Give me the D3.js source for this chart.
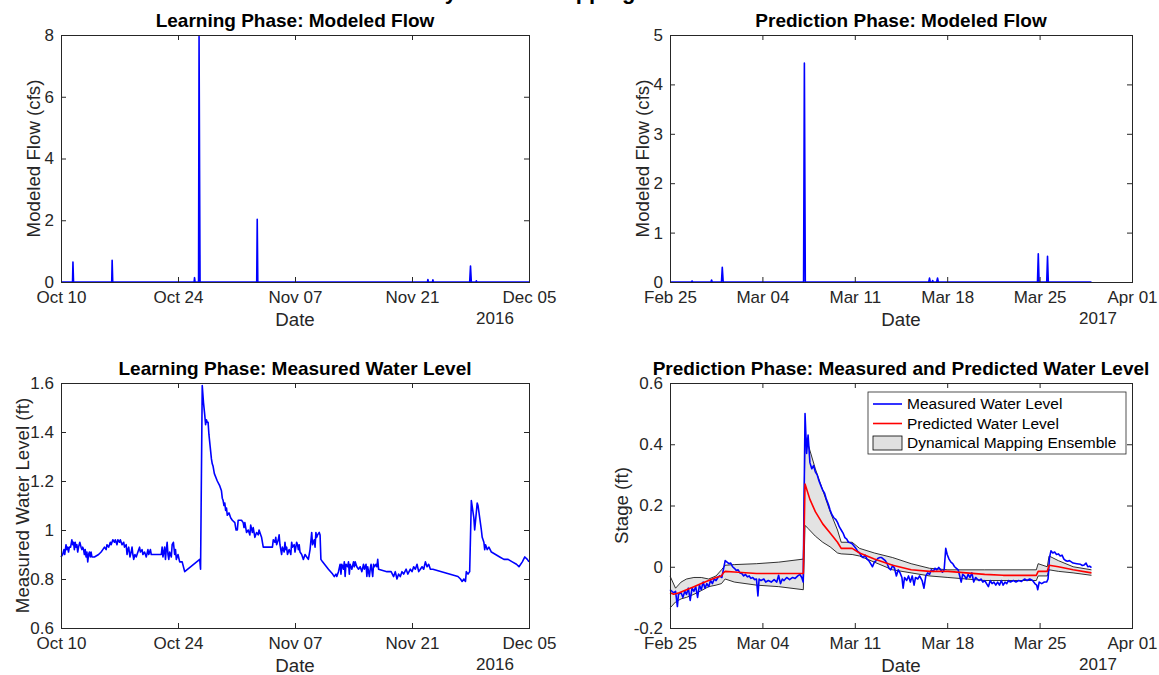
<!DOCTYPE html>
<html><head><meta charset="utf-8">
<script src="https://cdn.jsdelivr.net/npm/d3@7"></script>
<style>
body{margin:0;background:#fff}
svg{display:block}
text{font-family:"Liberation Sans",Arial,Helvetica,sans-serif}
</style>
</head><body>
<svg id="c" width="1159" height="675"></svg>
<script>
// ---------- DATA ----------
const mainTitle = "Dynamical Mapping Results";
const learnStart = "2016-10-10", learnEnd = "2016-12-05";
const predStart = "2017-02-25", predEnd = "2017-04-01";
const learnTicks = ["2016-10-10","2016-10-24","2016-11-07","2016-11-21","2016-12-05"];
const predTicks = ["2017-02-25","2017-03-04","2017-03-11","2017-03-18","2017-03-25","2017-04-01"];
const flowLearnTicksY = [0,2,4,6,8];
const flowPredTicksY = [0,1,2,3,4,5];
const levelLearnTicksY = [0.6,0.8,1,1.2,1.4,1.6];
const stageTicksY = [-0.2,0,0.2,0.4,0.6];

// modeled flow, learning phase (day offset from start, cfs)
const flowLearnDays = [0,1.38,1.43,1.5,6.07,6.12,6.19,15.93,15.98,16.04,16.46,16.52,16.58,16.64,23.42,23.48,23.55,43.85,43.9,43.96,44.45,44.5,44.56,48.9,49.0,49.1,49.65,49.7,49.76,56];
const flowLearnValues = [0,0,0.65,0,0,0.70,0,0,0.14,0,0,7.95,3.7,0,0,2.03,0,0,0.08,0,0,0.07,0,0,0.52,0,0,0.04,0,0];

// modeled flow, prediction phase
const flowPredDays = [0,1.62,1.67,1.72,3.1,3.15,3.2,3.9,3.96,4.03,10.12,10.18,10.25,19.6,19.66,19.72,19.85,19.9,19.95,20.2,20.27,20.33,27.84,27.9,27.96,28.54,28.6,28.66,31.93];
const flowPredValues = [0,0,0.02,0,0,0.04,0,0,0.3,0,0,4.43,0,0,0.08,0,0,0.03,0,0,0.08,0,0,0.57,0,0,0.52,0,0];

// measured water level, learning phase [day offset, ft]
const levelLearn = [
[0,0.89],[0.2,0.90],[0.35,0.92],[0.45,0.90],[0.6,0.94],[0.7,0.92],[0.8,0.93],[0.9,0.91],[1.0,0.93],[1.15,0.93],
[1.3,0.96],[1.4,0.94],[1.5,0.95],[1.6,0.92],[1.7,0.95],[1.8,0.93],[1.9,0.94],[2.0,0.91],[2.1,0.93],[2.25,0.95],
[2.4,0.93],[2.5,0.92],[2.6,0.93],[2.7,0.92],[2.8,0.90],[2.9,0.92],[3.0,0.89],[3.1,0.91],[3.2,0.87],[3.3,0.90],
[3.4,0.91],[3.5,0.89],[3.6,0.91],[3.7,0.89],[4.0,0.89],[4.5,0.90],[4.8,0.91],[5.0,0.92],[5.2,0.93],[5.4,0.92],
[5.5,0.94],[5.7,0.93],[5.9,0.95],[6.0,0.94],[6.2,0.96],[6.4,0.95],[6.5,0.96],[6.7,0.94],[6.8,0.96],[7.0,0.95],
[7.1,0.96],[7.3,0.94],[7.5,0.95],[7.6,0.93],[7.8,0.94],[7.9,0.90],[8.0,0.92],[8.1,0.93],[8.25,0.89],[8.4,0.91],
[8.5,0.93],[8.6,0.90],[8.7,0.88],[8.85,0.90],[9.0,0.89],[9.2,0.91],[9.4,0.93],[9.5,0.91],[9.7,0.92],[9.8,0.90],
[10.0,0.91],[10.2,0.89],[10.4,0.92],[10.5,0.90],[10.7,0.92],[10.8,0.90],[11.0,0.90],[12.0,0.90],[12.1,0.93],[12.2,0.89],
[12.4,0.93],[12.5,0.88],[12.6,0.92],[12.7,0.95],[12.8,0.90],[12.9,0.88],[13.0,0.91],[13.2,0.89],[13.3,0.94],[13.45,0.95],
[13.6,0.90],[13.7,0.92],[13.8,0.88],[14.0,0.90],[14.2,0.87],[14.5,0.87],[14.8,0.83],[16.6,0.88],[16.7,0.84],[16.9,1.59],
[17.05,1.52],[17.2,1.47],[17.3,1.43],[17.4,1.45],[17.5,1.44],[17.6,1.44],[17.7,1.39],[17.85,1.34],[18.0,1.29],[18.1,1.27],
[18.2,1.26],[18.35,1.23],[18.7,1.20],[19.0,1.18],[19.2,1.16],[19.3,1.13],[19.4,1.12],[19.5,1.10],[19.6,1.11],[19.7,1.08],
[19.8,1.09],[19.9,1.06],[20.1,1.07],[20.3,1.05],[20.5,1.04],[20.8,1.03],[20.95,1.00],[21.1,1.00],[21.2,1.04],[21.6,1.04],
[21.8,1.03],[21.9,1.01],[22.0,1.03],[22.2,0.99],[22.4,1.00],[22.6,0.98],[22.7,1.02],[22.9,0.99],[23.0,1.01],[23.2,0.97],
[23.4,0.99],[23.6,0.98],[23.7,1.00],[23.9,0.98],[24.0,0.97],[24.2,0.93],[25.3,0.93],[25.4,0.96],[25.6,0.95],[25.7,0.97],
[25.8,0.94],[26.0,0.96],[26.1,0.98],[26.2,0.94],[26.4,0.90],[26.5,0.93],[26.7,0.91],[26.8,0.95],[26.9,0.92],[27.0,0.93],
[27.1,0.90],[27.3,0.92],[27.5,0.90],[27.6,0.95],[27.7,0.93],[27.9,0.94],[28.0,0.91],[28.2,0.95],[28.3,0.94],[28.4,0.92],
[28.5,0.94],[28.6,0.91],[28.8,0.90],[29.0,0.88],[29.2,0.90],[29.4,0.89],[29.6,0.88],[29.8,0.92],[30.0,0.99],[30.1,0.94],
[30.3,0.96],[30.4,0.93],[30.5,0.99],[30.6,0.97],[30.7,0.98],[30.9,0.99],[31.0,0.98],[31.1,0.88],[31.3,0.87],[32.0,0.84],
[32.5,0.82],[32.7,0.81],[32.9,0.82],[33.0,0.81],[33.2,0.83],[33.4,0.86],[33.5,0.82],[33.6,0.86],[33.8,0.84],[33.9,0.87],
[34.0,0.81],[34.1,0.86],[34.3,0.85],[34.4,0.87],[34.5,0.82],[34.6,0.86],[34.8,0.84],[35.0,0.87],[35.1,0.85],[35.2,0.87],
[35.4,0.85],[35.6,0.84],[35.8,0.85],[36.0,0.83],[36.2,0.86],[36.3,0.84],[36.5,0.86],[36.6,0.81],[36.7,0.85],[36.9,0.81],
[37.0,0.84],[37.1,0.86],[37.3,0.81],[37.4,0.86],[37.5,0.85],[37.7,0.86],[37.8,0.85],[37.9,0.88],[38.0,0.84],[39.0,0.83],
[39.5,0.83],[39.8,0.81],[40.0,0.83],[40.2,0.80],[40.4,0.82],[40.6,0.81],[40.8,0.83],[41.0,0.82],[41.3,0.84],[41.5,0.82],
[41.8,0.84],[42.0,0.83],[42.2,0.85],[42.4,0.84],[42.6,0.86],[42.8,0.83],[43.0,0.84],[43.2,0.85],[43.4,0.84],[43.6,0.87],
[43.8,0.85],[44.0,0.86],[44.2,0.84],[44.5,0.84],[47.5,0.81],[47.8,0.80],[48.0,0.79],[48.2,0.80],[48.4,0.79],[48.5,0.83],
[48.7,0.82],[48.9,0.83],[49.1,1.12],[49.4,1.05],[49.5,1.00],[49.8,1.11],[49.9,1.10],[50.1,1.05],[50.3,1.00],[50.4,0.97],
[50.6,0.95],[50.7,0.92],[50.8,0.94],[51.0,0.92],[51.2,0.93],[51.5,0.91],[52.0,0.90],[52.5,0.89],[53.0,0.88],[53.5,0.88],
[54.0,0.87],[54.5,0.86],[54.8,0.85],[55.2,0.87],[55.5,0.89],[55.8,0.88],[56.0,0.87]
];

// measured stage, prediction phase [day offset, ft]
const stageMeasured = [
[0,-0.075],[0.14,-0.08],[0.28,-0.085],[0.42,-0.08],[0.56,-0.13],[0.64,-0.09],[0.84,-0.085],[0.98,-0.10],[1.12,-0.08],[1.25,-0.09],
[1.39,-0.07],[1.53,-0.11],[1.67,-0.07],[1.81,-0.08],[1.95,-0.065],[2.09,-0.10],[2.23,-0.06],[2.37,-0.075],[2.51,-0.05],[2.65,-0.07],
[2.79,-0.055],[2.93,-0.065],[3.07,-0.045],[3.21,-0.055],[3.35,-0.04],[3.49,-0.045],[3.63,-0.035],[3.76,-0.03],[3.93,-0.035],[4.04,-0.01],
[4.18,0.02],[4.32,0.015],[4.46,0.01],[4.60,0.012],[4.74,0.0],[4.88,-0.005],[5.02,-0.012],[5.16,-0.01],[5.30,-0.02],[5.44,-0.022],
[5.58,-0.03],[5.72,-0.025],[5.86,-0.033],[6.00,-0.03],[6.13,-0.038],[6.27,-0.035],[6.41,-0.042],[6.55,-0.04],[6.66,-0.095],[6.75,-0.04],
[6.89,-0.045],[7.11,-0.04],[7.25,-0.05],[7.45,-0.045],[7.67,-0.05],[7.89,-0.042],[8.09,-0.05],[8.23,-0.028],[8.37,-0.055],[8.51,-0.04],
[8.64,-0.045],[8.84,-0.035],[9.06,-0.042],[9.29,-0.035],[9.48,-0.038],[9.68,-0.03],[9.84,-0.025],[9.98,-0.035],[10.09,-0.05],[10.23,0.50],
[10.35,0.37],[10.46,0.43],[10.60,0.34],[10.74,0.32],[10.88,0.33],[11.01,0.31],[11.15,0.30],[11.29,0.28],[11.43,0.265],[11.57,0.25],
[11.71,0.24],[11.85,0.22],[11.99,0.205],[12.13,0.185],[12.27,0.17],[12.41,0.16],[12.55,0.155],[12.69,0.145],[12.83,0.13],[12.97,0.12],
[13.11,0.11],[13.25,0.095],[13.39,0.09],[13.52,0.08],[13.66,0.078],[13.80,0.075],[13.94,0.068],[14.08,0.06],[14.22,0.05],[14.36,0.045],
[14.50,0.035],[14.64,0.03],[14.78,0.038],[14.92,0.025],[15.06,0.02],[15.20,0.01],[15.34,0.0],[15.48,0.015],[15.62,0.02],[15.76,0.028],
[15.90,0.03],[16.03,0.03],[16.17,0.025],[16.31,0.02],[16.45,0.01],[16.59,-0.005],[16.73,-0.01],[16.87,0.005],[17.01,-0.005],[17.15,-0.03],
[17.29,-0.01],[17.43,-0.02],[17.57,-0.035],[17.66,-0.07],[17.77,-0.035],[17.93,-0.045],[18.07,-0.03],[18.21,-0.05],[18.35,-0.03],[18.49,-0.06],
[18.60,-0.035],[18.77,-0.04],[18.91,-0.03],[19.10,-0.045],[19.24,-0.07],[19.38,-0.03],[19.52,-0.02],[19.66,-0.025],[19.80,-0.01],[19.94,-0.015],
[20.08,-0.005],[20.22,-0.01],[20.36,-0.002],[20.50,-0.01],[20.64,-0.018],[20.77,-0.01],[20.89,0.06],[21.00,0.04],[21.14,0.025],[21.28,0.015],
[21.42,0.01],[21.56,0.0],[21.70,-0.005],[21.83,-0.01],[21.95,-0.03],[22.06,-0.05],[22.17,-0.025],[22.31,-0.03],[22.45,-0.04],[22.59,-0.025],
[22.73,-0.035],[22.87,-0.02],[23.01,-0.05],[23.15,-0.035],[23.28,-0.04],[23.42,-0.045],[23.56,-0.04],[23.70,-0.05],[23.84,-0.045],[23.98,-0.055],
[24.12,-0.065],[24.26,-0.045],[24.40,-0.055],[24.54,-0.05],[24.68,-0.06],[24.82,-0.05],[24.96,-0.06],[25.10,-0.045],[25.24,-0.06],[25.38,-0.05],
[25.51,-0.055],[25.65,-0.045],[25.79,-0.05],[26.02,-0.045],[26.21,-0.05],[26.41,-0.045],[26.63,-0.048],[26.86,-0.04],[27.05,-0.045],[27.25,-0.04],
[27.47,-0.045],[27.64,-0.055],[27.78,-0.06],[27.86,-0.075],[27.97,-0.05],[28.16,-0.055],[28.36,-0.05],[28.53,-0.05],[28.64,-0.04],[28.75,0.03],
[28.86,0.052],[29.00,0.045],[29.14,0.048],[29.28,0.04],[29.42,0.042],[29.56,0.035],[29.70,0.038],[29.84,0.025],[29.98,0.02],[30.12,0.018],
[30.26,0.02],[30.54,0.012],[30.82,0.01],[31.10,0.008],[31.24,0.004],[31.38,0.006],[31.52,0.012],[31.65,0.0],[31.79,0.002],[31.93,-0.003]
];

// predicted stage [day offset, ft]
const stagePredicted = [
[0,-0.085],[0.28,-0.09],[0.7,-0.085],[1.25,-0.075],[1.81,-0.065],[2.37,-0.055],[2.93,-0.045],[3.49,-0.035],[3.9,-0.03],[4.04,-0.02],
[4.18,-0.015],[4.88,-0.017],[6.55,-0.022],[8.78,-0.022],[10.1,-0.022],[10.23,0.27],[10.6,0.22],[11.01,0.18],[11.57,0.14],[12.13,0.11],
[12.69,0.08],[12.97,0.06],[13.8,0.06],[14.36,0.045],[15.48,0.025],[16.87,0.005],[18.27,-0.01],[19.66,-0.015],[21.05,-0.015],[22.45,-0.02],
[23.84,-0.025],[25.24,-0.028],[27.75,-0.028],[27.89,-0.015],[28.58,-0.015],[28.72,0.005],[29.42,0.0],[30.54,-0.01],[31.93,-0.02]
];

// dynamical mapping ensemble envelope
const ensDays = [0,0.42,0.84,1.25,1.81,2.37,2.93,3.49,3.9,4.18,4.88,6.55,8.23,10.1,10.23,10.46,11.01,11.57,12.13,12.69,12.97,13.8,14.36,15.48,16.87,18.27,19.66,21.05,23.84,27.75,27.89,28.58,28.72,29.42,30.54,31.93];
const ensUpper = [-0.03,-0.07,-0.05,-0.04,-0.035,-0.035,-0.04,-0.03,-0.01,0.005,0.007,0.01,0.015,0.025,0.43,0.40,0.32,0.25,0.18,0.12,0.08,0.08,0.06,0.045,0.03,0.01,-0.005,-0.01,-0.01,-0.01,0.01,0.0,0.035,0.02,0.0,-0.01];
const ensLower = [-0.135,-0.115,-0.105,-0.10,-0.09,-0.078,-0.065,-0.06,-0.055,-0.04,-0.05,-0.06,-0.065,-0.075,0.135,0.125,0.10,0.08,0.065,0.045,0.042,0.04,0.035,0.015,-0.01,-0.02,-0.03,-0.035,-0.045,-0.045,-0.03,-0.03,-0.01,-0.015,-0.02,-0.028];

const legendLabels = ["Measured Water Level","Predicted Water Level","Dynamical Mapping Ensemble"];

// ---------- DRAWING ----------
const svg = d3.select("#c");
const DAY = 864e5;
const parse = d3.utcParse("%Y-%m-%d");
const AX = "#262626";
const TICK_FS = 17, LAB_FS = 18.7, TITLE_FS = 19;

function panel(o) {
  const t0 = parse(o.start);
  const x = d3.scaleUtc().domain([t0, parse(o.end)]).range([o.l, o.r]);
  const y = d3.scaleLinear().domain(o.yDomain).range([o.b, o.t]);
  const g = svg.append("g");
  const lay = g.append("g");
  const ax = g.append("g");
  const style = sel => {
    sel.attr("font-family", null).attr("font-size", TICK_FS);
    sel.select(".domain").remove();
    sel.selectAll("line").attr("stroke", AX);
    sel.selectAll("text").attr("fill", AX);
  };
  ax.append("g").attr("transform", `translate(0,${o.b})`)
    .call(d3.axisBottom(x).tickValues(o.xTicks.map(parse)).tickFormat(d3.utcFormat("%b %d"))
      .tickSizeInner(-5).tickSizeOuter(0).tickPadding(9)).call(style);
  ax.append("g").attr("transform", `translate(0,${o.t})`)
    .call(d3.axisTop(x).tickValues(o.xTicks.map(parse)).tickFormat("").tickSizeInner(-5).tickSizeOuter(0)).call(style);
  ax.append("g").attr("transform", `translate(${o.l},0)`)
    .call(d3.axisLeft(y).tickValues(o.yTicks).tickFormat(d => String(d)).tickSizeInner(-5).tickSizeOuter(0).tickPadding(7)).call(style);
  ax.append("g").attr("transform", `translate(${o.r},0)`)
    .call(d3.axisRight(y).tickValues(o.yTicks).tickFormat("").tickSizeInner(-5).tickSizeOuter(0)).call(style);
  ax.append("rect").attr("x", o.l).attr("y", o.t).attr("width", o.r - o.l).attr("height", o.b - o.t)
    .attr("fill", "none").attr("stroke", AX).attr("stroke-width", 1).attr("shape-rendering", "crispEdges");
  // title
  g.append("text").attr("x", (o.l + o.r) / 2).attr("y", o.t - 8).attr("text-anchor", "middle")
    .attr("font-size", TITLE_FS).attr("font-weight", "bold").attr("fill", "#000").text(o.title);
  // x label
  g.append("text").attr("x", (o.l + o.r) / 2).attr("y", o.b + 44).attr("text-anchor", "middle")
    .attr("font-size", LAB_FS).attr("fill", AX).text("Date");
  // year
  g.append("text").attr("x", o.r - 34).attr("y", o.b + 42).attr("text-anchor", "middle")
    .attr("font-size", TICK_FS).attr("fill", AX).text(o.year);
  // y label
  g.append("text").attr("transform", `translate(${o.ylabX},${(o.t + o.b) / 2}) rotate(-90)`)
    .attr("text-anchor", "middle").attr("dy", "0.35em")
    .attr("font-size", LAB_FS).attr("fill", AX).text(o.ylabel);
  const tx = d => x(new Date(t0.getTime() + d * DAY));
  return { x, y, lay, tx };
}

const L1 = 61, R1 = 529, L2 = 670, R2 = 1132;
const T1 = 35, B1 = 282, T2 = 383, B2 = 628;

// main title (mostly outside the figure)
svg.append("text").attr("x", 575).attr("y", -1).attr("text-anchor", "middle")
  .attr("font-size", 22).attr("font-weight", "bold").attr("fill", "#000").text(mainTitle);

// Panel 1
{
  const p = panel({ l: L1, r: R1, t: T1, b: B1, start: learnStart, end: learnEnd, xTicks: learnTicks,
    yDomain: [0, 8], yTicks: flowLearnTicksY, title: "Learning Phase: Modeled Flow",
    ylabel: "Modeled Flow (cfs)", ylabX: 33, year: "2016" });
  const line = d3.line().x(i => p.tx(flowLearnDays[i])).y(i => p.y(flowLearnValues[i]));
  p.lay.append("path").attr("d", line(d3.range(flowLearnDays.length)))
    .attr("fill", "none").attr("stroke", "#0000ff").attr("stroke-width", 1.6).attr("stroke-linejoin", "round");
}
// Panel 2
{
  const p = panel({ l: L2, r: R2, t: T1, b: B1, start: predStart, end: predEnd, xTicks: predTicks,
    yDomain: [0, 5], yTicks: flowPredTicksY, title: "Prediction Phase: Modeled Flow",
    ylabel: "Modeled Flow (cfs)", ylabX: 642, year: "2017" });
  const line = d3.line().x(i => p.tx(flowPredDays[i])).y(i => p.y(flowPredValues[i]));
  p.lay.append("path").attr("d", line(d3.range(flowPredDays.length)))
    .attr("fill", "none").attr("stroke", "#0000ff").attr("stroke-width", 1.6).attr("stroke-linejoin", "round");
}
// Panel 3
{
  const p = panel({ l: L1, r: R1, t: T2, b: B2, start: learnStart, end: learnEnd, xTicks: learnTicks,
    yDomain: [0.6, 1.6], yTicks: levelLearnTicksY, title: "Learning Phase: Measured Water Level",
    ylabel: "Measured Water Level (ft)", ylabX: 22, year: "2016" });
  const line = d3.line().x(d => p.tx(d[0])).y(d => p.y(d[1]));
  p.lay.append("path").attr("d", line(levelLearn))
    .attr("fill", "none").attr("stroke", "#0000ff").attr("stroke-width", 1.6).attr("stroke-linejoin", "round");
}
// Panel 4
{
  const p = panel({ l: L2, r: R2, t: T2, b: B2, start: predStart, end: predEnd, xTicks: predTicks,
    yDomain: [-0.2, 0.6], yTicks: stageTicksY, title: "Prediction Phase: Measured and Predicted Water Level",
    ylabel: "Stage (ft)", ylabX: 621, year: "2017" });
  const idx = d3.range(ensDays.length);
  const area = d3.area().x(i => p.tx(ensDays[i])).y0(i => p.y(ensLower[i])).y1(i => p.y(ensUpper[i]));
  p.lay.append("path").attr("d", area(idx)).attr("fill", "#e3e3e3").attr("stroke", "none");
  const lu = d3.line().x(i => p.tx(ensDays[i])).y(i => p.y(ensUpper[i]));
  const ll = d3.line().x(i => p.tx(ensDays[i])).y(i => p.y(ensLower[i]));
  p.lay.append("path").attr("d", lu(idx)).attr("fill", "none").attr("stroke", "#000").attr("stroke-width", 0.8);
  p.lay.append("path").attr("d", ll(idx)).attr("fill", "none").attr("stroke", "#000").attr("stroke-width", 0.8);
  const line = d3.line().x(d => p.tx(d[0])).y(d => p.y(d[1]));
  p.lay.append("path").attr("d", line(stageMeasured))
    .attr("fill", "none").attr("stroke", "#0000ff").attr("stroke-width", 1.6).attr("stroke-linejoin", "round");
  p.lay.append("path").attr("d", line(stagePredicted))
    .attr("fill", "none").attr("stroke", "#ff0000").attr("stroke-width", 1.6).attr("stroke-linejoin", "round");

  // legend
  const lg = svg.append("g").attr("transform", "translate(868,392)");
  lg.append("rect").attr("width", 258).attr("height", 62).attr("fill", "#fff").attr("stroke", AX).attr("stroke-width", 0.8);
  const rowY = [12, 31.5, 51];
  const colors = ["#0000ff", "#ff0000"];
  legendLabels.forEach((lab, i) => {
    if (i < 2) {
      lg.append("line").attr("x1", 5).attr("x2", 34).attr("y1", rowY[i]).attr("y2", rowY[i])
        .attr("stroke", colors[i]).attr("stroke-width", 1.6);
    } else {
      lg.append("rect").attr("x", 5).attr("y", rowY[i] - 7).attr("width", 29).attr("height", 14)
        .attr("fill", "#e0e0e0").attr("stroke", "#000").attr("stroke-width", 0.8);
    }
    lg.append("text").attr("x", 39).attr("y", rowY[i]).attr("dy", "0.35em")
      .attr("font-size", 15.5).attr("fill", "#000").text(lab);
  });
}
</script>
</body></html>
